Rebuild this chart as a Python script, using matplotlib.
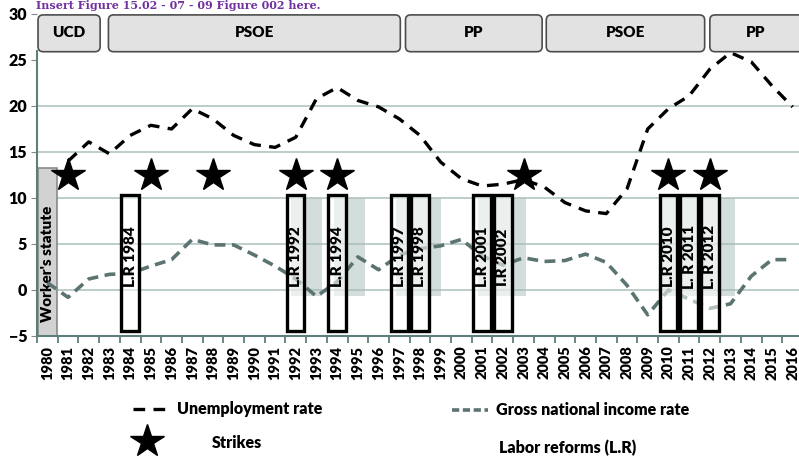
import numpy as np
import matplotlib
matplotlib.use('Agg')
import matplotlib.pyplot as plt
from matplotlib.patches import Rectangle, FancyBboxPatch
from matplotlib.lines import Line2D

plt.rcParams['font.family'] = ['Lato', 'DejaVu Sans']
plt.rcParams['font.weight'] = 'heavy'

# Datos
years = list(range(1980, 2017))
unemployment = [None, 14.0, 16.1, 14.8, 16.8, 17.9, 17.5, 19.7, 18.6, 16.8,
                15.8, 15.5, 16.6, 20.8, 22.0, 20.6, 19.9, 18.6, 16.8, 13.9,
                12.1, 11.3, 11.5, 12.0, 11.2, 9.5, 8.6, 8.3, 11.0, 17.5,
                19.7, 21.1, 24.0, 25.8, 24.8, 22.2, 19.9]
gni = [0.8, -0.8, 1.2, 1.7, 1.8, 2.6, 3.3, 5.5, 4.9, 4.9,
       3.8, 2.6, 1.2, -0.7, 0.9, 3.6, 2.2, 3.8, 4.5, 4.8,
       5.5, 3.7, 2.7, 3.5, 3.1, 3.2, 3.9, 3.0, 0.5, -2.7,
       0.0, -1.0, -2.0, -1.5, 1.5, 3.3, 3.3]
strike_years = [1981, 1985, 1988, 1992, 1994, 2003, 2010, 2012]
strike_level = 12.5
reform_years = [1984, 1992, 1994, 1997, 1998, 2001, 2002, 2010, 2011, 2012]
reform_labels = ['L.R 1984', 'L.R 1992', 'L.R 1994', 'L.R 1997', 'L.R 1998',
                 'L.R 2001', 'I.R 2002', 'L.R 2010', 'L. R 2011', 'L. R 2012']
# sombreado detrás de las reformas (año inicio, año fin)
shade_spans = [(1991.75, 1993.25), (1993.85, 1995.35), (1996.85, 1999.0),
               (2000.8, 2003.1), (2009.6, 2013.2)]
parties = ['UCD', 'PSOE', 'PP', 'PSOE', 'PP']
party_start = [1979.55, 1982.95, 1997.3, 2004.1, 2012.0]
party_end = [1982.55, 1997.05, 2003.9, 2011.75, 2017.5]

x = np.arange(len(years))
def pos(y):
    return y - years[0]

fig = plt.figure(figsize=(7.99, 4.57), dpi=100)
ax = fig.add_axes([0.0463, 0.2648, 0.9587, 0.7046])
ax.set_xlim(-0.5, len(years) - 0.5)
ax.set_ylim(-5, 30)

grid_c = '#b7c9c6'
for g in [0, 5, 10, 15, 20]:
    ax.axhline(g, color=grid_c, lw=1.3, zorder=0)

# Worker's statute
ax.add_patch(Rectangle((-0.45, -5), 0.9, 18.3, facecolor='#d2d2d2',
                       edgecolor='#8a8a8a', lw=1.2, zorder=2))
ax.text(0, 2.8, "Worker's statute", rotation=90, ha='center', va='center',
        fontsize=11, fontweight='heavy', zorder=3)

# sombreado
for s, e in shade_spans:
    ax.add_patch(Rectangle((pos(s), -0.7), e - s, 10.7, facecolor='#a9bcb9',
                           alpha=0.5, lw=0, zorder=1))

# líneas
xu = [i for i, v in zip(x, unemployment) if v is not None]
yu = [v for v in unemployment if v is not None]
ax.plot(xu, yu, color='black', lw=2.4, dashes=(3.5, 2.5), zorder=3)
ax.plot(x, gni, color='#5b7471', lw=2.6, dashes=(3.0, 1.8), zorder=3)

# reformas laborales
for yr, lab in zip(reform_years, reform_labels):
    p = pos(yr)
    ax.add_patch(Rectangle((p - 0.42, -4.5), 0.84, 14.85, facecolor='white',
                           alpha=0.55, edgecolor='none', zorder=4))
    ax.add_patch(Rectangle((p - 0.42, -4.5), 0.84, 14.85, facecolor='none',
                           edgecolor='black', lw=2.4, zorder=5))
    ax.text(p, 3.6, lab, rotation=90, ha='center', va='center',
            fontsize=11, fontweight='heavy', zorder=6)

# huelgas
ax.plot([pos(y) for y in strike_years], [strike_level] * len(strike_years),
        linestyle='none', marker='*', markersize=25, color='black', zorder=7)

# partidos
for name, s, e in zip(parties, party_start, party_end):
    b = FancyBboxPatch((pos(s), 25.9), e - s, 4.0,
                       boxstyle='round,pad=0,rounding_size=0.25',
                       mutation_aspect=2.25, facecolor='#e2e2e2',
                       edgecolor='#4d4d4d', lw=1.2, zorder=6, clip_on=False)
    ax.add_patch(b)
    ax.text(pos((s + min(e, 2016.4)) / 2), 28.0, name, ha='center', va='center',
            fontsize=11, fontweight='heavy', zorder=7)

# ejes
axis_c = '#5f7d7a'
for sp in ['top', 'right']:
    ax.spines[sp].set_visible(False)
ax.spines['left'].set_color(axis_c)
ax.spines['left'].set_linewidth(1.5)
ax.spines['left'].set_bounds(-5, 26)
ax.spines['bottom'].set_color(axis_c)
ax.spines['bottom'].set_linewidth(1.5)
ax.set_yticks(range(-5, 31, 5))
ax.tick_params(axis='y', length=4, color='#888888', labelsize=11.5, pad=3)
ax.set_xticks(x)
ax.set_xticklabels([str(y) for y in years], rotation=90, fontsize=10.5,
                   fontweight='heavy')
ax.set_xticks(np.arange(-0.5, len(years), 1), minor=True)
ax.tick_params(axis='x', which='major', length=0, pad=7)
ax.tick_params(axis='x', which='minor', length=5, color=axis_c, width=1.3)
for t in ax.get_yticklabels():
    t.set_fontweight('heavy')

# título (recortado en el original)
fig.text(0.045, 0.999, 'Insert Figure 15.02 - 07 - 09 Figure 002 here.',
         color='#7030a0', fontsize=8, fontweight='bold', family='DejaVu Serif',
         va='top')

# leyenda
fig.add_artist(Line2D([133 / 799, 170 / 799], [1 - 409 / 457] * 2, color='black',
                      lw=2.4, dashes=(3.5, 2.5)))
fig.text(177 / 799, 1 - 409 / 457, 'Unemployment rate', fontsize=11.5,
         fontweight='heavy', va='center')
fig.add_artist(Line2D([452 / 799, 488 / 799], [1 - 410 / 457] * 2, color='#5b7471',
                      lw=2.6, dashes=(2.0, 1.0)))
fig.text(496 / 799, 1 - 410 / 457, 'Gross national income rate', fontsize=11.5,
         fontweight='heavy', va='center')
fig.add_artist(Line2D([147 / 799], [1 - 441 / 457], marker='*', markersize=25,
                      color='black', linestyle='none'))
fig.text(212 / 799, 1 - 443 / 457, 'Strikes', fontsize=11.5, fontweight='heavy',
         va='center')
fig.text(499 / 799, 1 - 448 / 457, 'Labor reforms (L.R)', fontsize=11.5,
         fontweight='heavy', va='center')

fig.savefig('out.png', dpi=100)
